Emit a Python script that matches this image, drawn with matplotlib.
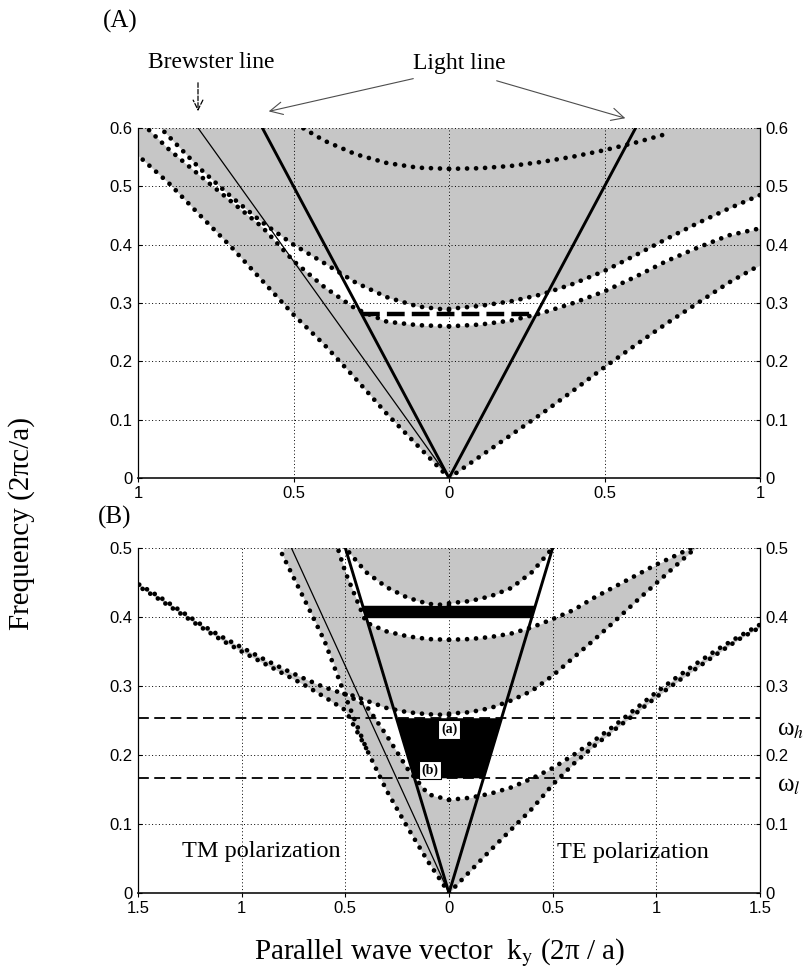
import matplotlib
matplotlib.use('Agg')
import matplotlib.pyplot as plt
import numpy as np
from matplotlib.patches import FancyArrowPatch
import matplotlib.transforms as mtransforms

plt.rcParams['mathtext.fontset'] = 'stix'
SERIF = ['Liberation Serif', 'DejaVu Serif']
SANS = ['Liberation Sans', 'DejaVu Sans']
plt.rcParams['font.family'] = SANS

# ---------------- Panel A data (k in 2pi/a, omega in 2pi c/a) ----------------
kA_te = [0.0, 0.1, 0.2, 0.3, 0.4, 0.5, 0.6, 0.7, 0.8, 0.9, 1.0]
A_te_L1 = [0.0, 0.037, 0.074, 0.111, 0.15, 0.19, 0.228, 0.265, 0.30, 0.335, 0.365]
A_te_U1 = [0.26, 0.263, 0.27, 0.283, 0.30, 0.32, 0.345, 0.372, 0.395, 0.416, 0.428]
A_te_L2 = [0.29, 0.295, 0.303, 0.315, 0.333, 0.355, 0.382, 0.41, 0.437, 0.462, 0.485]
kA_te2 = [0.0, 0.1, 0.2, 0.3, 0.4, 0.5, 0.6, 0.7]
A_te_U2 = [0.53, 0.531, 0.535, 0.542, 0.551, 0.562, 0.575, 0.59]

kA_tm = [0.0, -0.1, -0.2, -0.3, -0.4, -0.5, -0.6, -0.7, -0.8, -0.9, -1.0]
A_tm_L1 = [0.0, 0.055, 0.11, 0.17, 0.228, 0.28, 0.338, 0.396, 0.45, 0.505, 0.553]
A_tm_U1 = [0.26, 0.262, 0.268, 0.29, 0.327, 0.372, 0.43, 0.474, 0.518, 0.563, 0.615]
A_tm_L2 = [0.288, 0.294, 0.31, 0.335, 0.368, 0.40, 0.438, 0.482, 0.53, 0.585, 0.64]
kA_tm2 = [0.0, -0.1, -0.2, -0.3, -0.4, -0.47]
A_tm_U2 = [0.53, 0.532, 0.54, 0.555, 0.578, 0.60]

A_light_k = [-0.6, 0.0, 0.6]
A_light_w = [0.6, 0.0, 0.6]
A_brew_k = [-0.807, 0.0]
A_brew_w = [0.6, 0.0]
A_omni_k = [-0.281, 0.281]
A_omni_w = [0.281, 0.281]

A_xticks = [-1, -0.5, 0, 0.5, 1]
A_xlabels = ['1', '0.5', '0', '0.5', '1']
A_yticks = [0, 0.1, 0.2, 0.3, 0.4, 0.5, 0.6]
A_ylabels = ['0', '0.1', '0.2', '0.3', '0.4', '0.5', '0.6']

# ---------------- Panel B data ----------------
kB_te = [0.0, 0.1, 0.2, 0.3, 0.4, 0.5, 0.6, 0.7, 0.8, 0.9, 1.0, 1.1, 1.2, 1.3, 1.4, 1.5]
B_te_L1 = [0.0, 0.031, 0.062, 0.092, 0.122, 0.157, 0.187, 0.213, 0.237, 0.26, 0.284, 0.306, 0.327, 0.348, 0.368, 0.385]
B_te_U1 = [0.135, 0.138, 0.144, 0.153, 0.166, 0.181, 0.2, 0.221, 0.243, 0.267, 0.291, 0.313, 0.334, 0.354, 0.372, 0.389]
kB_te2 = [0.0, 0.1, 0.2, 0.3, 0.4, 0.5, 0.6, 0.7, 0.8, 0.9, 1.0, 1.1, 1.2]
B_te_L2 = [0.26, 0.262, 0.268, 0.279, 0.293, 0.315, 0.341, 0.367, 0.394, 0.422, 0.449, 0.476, 0.503]
B_te_U2 = [0.367, 0.368, 0.371, 0.376, 0.385, 0.397, 0.41, 0.428, 0.444, 0.46, 0.476, 0.49, 0.505]
kB_te3 = [0.0, 0.1, 0.2, 0.3, 0.4, 0.5]
B_te_L3 = [0.42, 0.423, 0.43, 0.442, 0.465, 0.5]

kB_tm = [0.0, -0.1, -0.2, -0.3, -0.4, -0.5, -0.6, -0.7, -0.8, -0.9, -1.0, -1.1, -1.2, -1.3, -1.4, -1.5]
B_tm_L1 = [0.0, 0.045, 0.095, 0.148, 0.21, 0.265, 0.284, 0.302, 0.318, 0.334, 0.35, 0.367, 0.386, 0.406, 0.426, 0.445]
B_tm_U1 = [0.135, 0.143, 0.18, 0.228, 0.272, 0.288, 0.298, 0.311, 0.325, 0.34, 0.356, 0.372, 0.39, 0.41, 0.43, 0.448]
kB_tmO = [0.0, -0.1, -0.2, -0.3, -0.4, -0.5, -0.6, -0.7, -0.8, -0.85]
B_tm_O = [0.0, 0.045, 0.095, 0.148, 0.21, 0.285, 0.365, 0.427, 0.488, 0.52]
kB_tm2 = [0.0, -0.1, -0.2, -0.3, -0.4, -0.5, -0.6, -0.7, -0.8]
B_tm_L2 = [0.258, 0.259, 0.262, 0.268, 0.279, 0.29, 0.365, 0.427, 0.488]
B_tm_U2 = [0.367, 0.368, 0.372, 0.379, 0.392, 0.465, 0.56, 0.65, 0.74]
kB_tm3 = [0.0, -0.1, -0.2, -0.3, -0.4, -0.5]
B_tm_L3 = [0.417, 0.419, 0.428, 0.443, 0.465, 0.5]

B_light_k = [-0.5, 0.0, 0.5]
B_light_w = [0.5, 0.0, 0.5]
B_brew_k = [-0.76, 0.0]
B_brew_w = [0.5, 0.0]
omega_h = 0.254
omega_l = 0.167
gap2 = [0.399, 0.417]

B_xticks = [-1.5, -1, -0.5, 0, 0.5, 1, 1.5]
B_xlabels = ['1.5', '1', '0.5', '0', '0.5', '1', '1.5']
B_yticks = [0, 0.1, 0.2, 0.3, 0.4, 0.5]
B_ylabels = ['0', '0.1', '0.2', '0.3', '0.4', '0.5']

# ---------------- styles ----------------
GRAY = '#c6c6c6'
DOT = dict(color='black', lw=3.4, ls=(0, (0.01, 1.9)), dash_capstyle='round', zorder=4)
GRID = dict(color='black', lw=0.7, ls=(0, (1, 2.5)))

fig = plt.figure(figsize=(8.06, 9.72), dpi=100)
axA = fig.add_axes([138/806, 1-478/972, 622/806, 350/972])
axB = fig.add_axes([138/806, 1-893/972, 622/806, 345/972])


def style_axes(ax, xt, xl, yt, yl, xlim, ylim):
    ax.set_xlim(*xlim)
    ax.set_ylim(*ylim)
    ax.set_xticks(xt)
    ax.set_xticklabels(xl)
    ax.set_yticks(yt)
    ax.set_yticklabels(yl)
    ax.tick_params(axis='both', direction='out', length=3, width=0.8, labelsize=12, pad=3,
                   right=True, labelright=True, top=False)
    ax.tick_params(axis='y', which='both', right=True, direction='in', pad=4)
    ax.spines['top'].set_visible(False)
    for s in ('left', 'right'):
        ax.spines[s].set_linewidth(0.9)
    ax.spines['bottom'].set_linewidth(1.4)
    ax.spines['bottom'].set_color('#333333')
    ax.grid(True, **GRID)
    ax.set_axisbelow(False)
    for lab in ax.get_xticklabels() + ax.get_yticklabels():
        lab.set_family(SANS)


# ---------------- Panel A ----------------
axA.fill_between(kA_te, A_te_L1, A_te_U1, color=GRAY, lw=0, zorder=1)
axA.fill_between(kA_te, A_te_L2, 0.6, color=GRAY, lw=0, zorder=1)
axA.fill_between(kA_tm, A_tm_L1, A_tm_U1, color=GRAY, lw=0, zorder=1)
axA.fill_between(kA_tm, A_tm_L2, 0.6, color=GRAY, lw=0, zorder=1)

for k, w in [(kA_te, A_te_L1), (kA_te, A_te_U1), (kA_te, A_te_L2), (kA_te2, A_te_U2),
             (kA_tm, A_tm_L1), (kA_tm, A_tm_U1), (kA_tm, A_tm_L2), (kA_tm2, A_tm_U2)]:
    axA.plot(k, w, **DOT)

axA.plot(A_light_k, A_light_w, color='black', lw=2.1, zorder=5)
axA.plot(A_brew_k, A_brew_w, color='black', lw=0.9, zorder=5)
axA.plot(A_omni_k, A_omni_w, color='black', lw=3.2, ls=(0, (4, 1.6)), zorder=5)
style_axes(axA, A_xticks, A_xlabels, A_yticks, A_ylabels, (-1, 1), (0, 0.6))

# ---------------- Panel B ----------------
axB.fill_between(kB_te, B_te_L1, B_te_U1, color=GRAY, lw=0, zorder=1)
axB.fill_between(kB_te2, B_te_L2, B_te_U2, color=GRAY, lw=0, zorder=1)
axB.fill_between(kB_te3, B_te_L3, 0.5, color=GRAY, lw=0, zorder=1)
axB.fill_between(kB_tm, B_tm_L1, B_tm_U1, color=GRAY, lw=0, zorder=1)
axB.fill_between(kB_tm2, B_tm_L2, B_tm_U2, color=GRAY, lw=0, zorder=1)
axB.fill_between(kB_tm3, B_tm_L3, 0.5, color=GRAY, lw=0, zorder=1)

# omnidirectional ranges (inside the light cone |k| <= omega)
wband = np.array([omega_l, omega_h])
axB.fill_betweenx(wband, -wband, wband, color='black', lw=0, zorder=3)
wband2 = np.array(gap2)
axB.fill_betweenx(wband2, -wband2, wband2, color='black', lw=0, zorder=3)

for k, w in [(kB_te, B_te_L1), (kB_te, B_te_U1), (kB_te2, B_te_L2), (kB_te2, B_te_U2),
             (kB_te3, B_te_L3),
             (kB_tmO, B_tm_O), (kB_tm[4:], B_tm_L1[4:]), (kB_tm, B_tm_U1),
             (kB_tm2[:6], B_tm_L2[:6]), (kB_tm2, B_tm_U2), (kB_tm3, B_tm_L3)]:
    axB.plot(k, w, **DOT)

axB.plot(B_light_k, B_light_w, color='black', lw=2.1, zorder=5)
axB.plot(B_brew_k, B_brew_w, color='black', lw=0.9, zorder=5)
axB.axhline(omega_h, color='black', lw=1.3, ls=(0, (6, 3)), zorder=3.5)
axB.axhline(omega_l, color='black', lw=1.3, ls=(0, (6, 3)), zorder=3.5)
style_axes(axB, B_xticks, B_xlabels, B_yticks, B_ylabels, (-1.5, 1.5), (0, 0.5))

box = dict(boxstyle='square,pad=0.18', fc='white', ec='black', lw=0.8)
axB.text(0.0, 0.237, '(a)', ha='center', va='center', fontsize=10, fontweight='bold',
         family=SERIF, bbox=box, zorder=6)
axB.text(-0.09, 0.178, '(b)', ha='center', va='center', fontsize=10, fontweight='bold',
         family=SERIF, bbox=box, zorder=6)
axB.text(-1.29, 0.06, 'TM polarization', ha='left', va='center', fontsize=17.5, family=SERIF, zorder=6)
axB.text(0.52, 0.058, 'TE polarization', ha='left', va='center', fontsize=17.5, family=SERIF, zorder=6)

trB = mtransforms.blended_transform_factory(axB.transAxes, axB.transData)
axB.text(1.027, 0.236, 'ω$_{h}$', transform=trB, fontsize=18, family=SERIF, ha='left', va='center')
axB.text(1.027, 0.155, 'ω$_{l}$', transform=trB, fontsize=18, family=SERIF, ha='left', va='center')

# ---------------- annotations ----------------
fig.text(120/806, 1-21/972, '(A)', fontsize=18, family=SERIF, ha='center', va='center')
fig.text(115/806, 1-517/972, '(B)', fontsize=18, family=SERIF, ha='center', va='center')
fig.text(211/806, 1-63/972, 'Brewster line', fontsize=17, family=SERIF, ha='center', va='center')
fig.text(459/806, 1-63/972, 'Light line', fontsize=17, family=SERIF, ha='center', va='center')

fig.add_artist(FancyArrowPatch((198/806, 1-80/972), (198/806, 1-114/972), transform=fig.transFigure,
                               arrowstyle='->,head_length=7,head_width=3.5', lw=0.9, ls='--',
                               color='black', mutation_scale=1))
fig.add_artist(FancyArrowPatch((416/806, 1-78/972), (266/806, 1-112/972), transform=fig.transFigure,
                               arrowstyle='->,head_length=9,head_width=4.5', lw=0.8,
                               color='0.3', mutation_scale=1))
fig.add_artist(FancyArrowPatch((494/806, 1-80/972), (628/806, 1-119/972), transform=fig.transFigure,
                               arrowstyle='->,head_length=9,head_width=4.5', lw=0.8,
                               color='0.3', mutation_scale=1))

fig.text(22/806, 1-523/972, 'Frequency (2πc/a)', rotation=90, fontsize=21, family=SERIF,
         ha='center', va='center')
fig.text(440/806, 1-953/972, r'Parallel wave vector  k$_{\rm y}$ (2π / a)', fontsize=21,
         family=SERIF, ha='center', va='center')

fig.savefig('out.png', dpi=100)
